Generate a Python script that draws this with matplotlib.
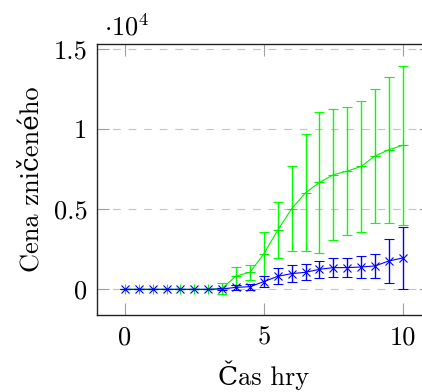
import matplotlib
matplotlib.use("Agg")
import matplotlib.pyplot as plt

plt.rcParams['font.family'] = ['cmr10', 'DejaVu Serif']
plt.rcParams['mathtext.fontset'] = 'cm'
plt.rcParams['axes.unicode_minus'] = False

# data
x = [0, 0.5, 1, 1.5, 2, 2.5, 3, 3.5, 4, 4.5, 5, 5.5, 6, 6.5, 7, 7.5, 8, 8.5, 9, 9.5, 10]
green_mean = [0, 0, 0, 0, 0, 0, 0, 60, 833, 1062, 2208, 3687, 5020, 6020, 6666, 7145,
              7374, 7666, 8312, 8708, 8978]
green_err = [0, 0, 0, 0, 0, 0, 0, 320, 580, 480, 1360, 1740, 2660, 3660, 4390, 4080,
             4010, 4080, 4190, 4560, 4960]
blue_mean = [0, 0, 0, 0, 0, 0, 0, 20, 125, 166, 479, 812, 979, 1062, 1250, 1354,
             1354, 1396, 1458, 1770, 1958]
blue_err = [0, 0, 0, 0, 0, 0, 0, 60, 150, 180, 354, 500, 510, 500, 530, 615,
            615, 677, 720, 1385, 1960]
xticks = [0, 5, 10]
xticklabels = ['0', '5', '10']
yticks = [0, 5000, 10000, 15000]
yticklabels = ['0', '0.5', '1', '1.5']

W, H = 422, 392
fig = plt.figure(figsize=(W / 100, H / 100), dpi=100)
ax = fig.add_axes([97 / W, (H - 315) / H, 333.6 / W, (315 - 44) / H])

lw = 0.8
elw = 1.0
ax.errorbar(x, green_mean, yerr=green_err, color='#00f000', ecolor='#00ff00',
            marker='+', markersize=7, markeredgewidth=lw, linewidth=lw,
            elinewidth=elw, capsize=3.6, capthick=elw, zorder=3)
ax.errorbar(x, blue_mean, yerr=blue_err, color='#0000ff', ecolor='#0000ff',
            marker='x', markersize=6, markeredgewidth=lw, linewidth=lw,
            elinewidth=elw, capsize=3.6, capthick=elw, zorder=4)

ax.set_xlim(-1, 11)
ax.set_ylim(-1600, 15300)
ax.set_xticks(xticks)
ax.set_xticklabels(xticklabels)
ax.set_yticks(yticks)
ax.set_yticklabels(yticklabels)

ax.yaxis.grid(True, color='#c4c4c4', linestyle=(0, (7, 7)), linewidth=lw)
ax.set_axisbelow(True)
ax.tick_params(axis='both', which='major', direction='in', length=8.3, width=lw,
               color='#a0a0a0', labelsize=19, top=True, right=True)
ax.tick_params(axis='x', pad=8)
ax.tick_params(axis='y', pad=7)
for s in ax.spines.values():
    s.set_linewidth(1.0)
    s.set_color('#222222')

ax.set_xlabel('Čas hry', fontsize=19, labelpad=8)
ax.set_ylabel('Cena zničeného', fontsize=19, labelpad=7)

fig.text(104 / W, 1 - 35 / H, r'$\cdot 10^{4}$', fontsize=19, va='baseline', ha='left')

fig.savefig('out.png', dpi=100)
